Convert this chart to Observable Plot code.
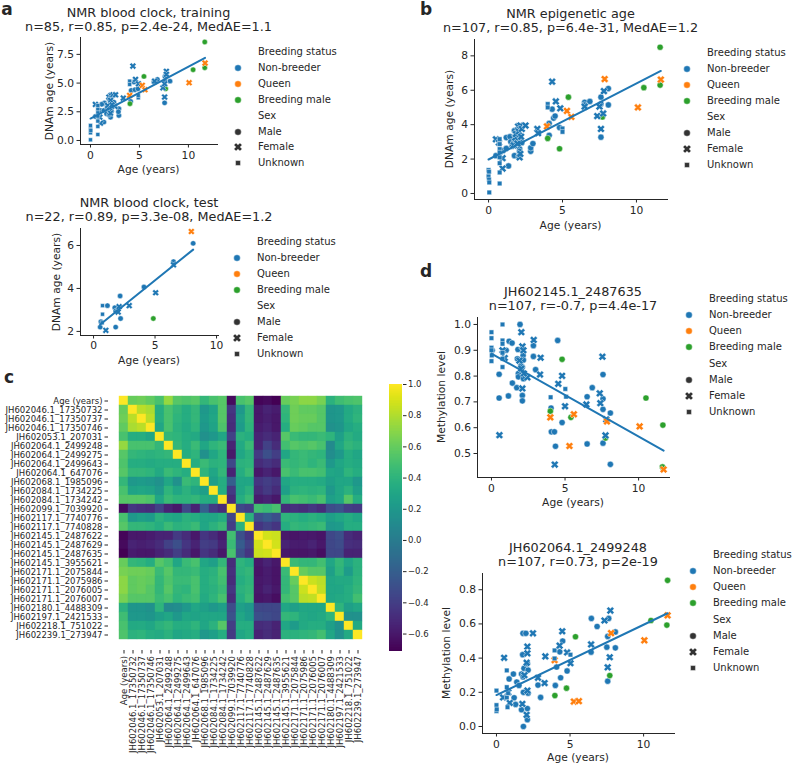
<!DOCTYPE html>
<html><head><meta charset="utf-8">
<script src="https://cdn.jsdelivr.net/npm/d3@7"></script>
<script src="https://cdn.jsdelivr.net/npm/@observablehq/plot@0.6"></script>
<style>
body{margin:0;background:#fff;}
#fig{position:relative;width:798px;height:766px;overflow:hidden;font-family:"DejaVu Sans",sans-serif;color:#262626;background:#fff;}
.t{position:absolute;white-space:nowrap;line-height:1;}
</style></head><body><div id="fig"></div>
<script>
// ---------------- DATA ----------------
// codes: first letter status (N non-breeder, Q queen, B breeding male), second letter sex (M, F, U)
const statusColors = {N:"#1f77b4", Q:"#ff7f0e", B:"#2ca02c"};
const statusLabels = ["Non-breeder","Queen","Breeding male"];
const sexLabels = ["Male","Female","Unknown"];

const trainPts = [
 [0,0.06,"NU"],[0,0.67,"NU"],[0,1.02,"NU"],[0,1.31,"NU"],[0.03,0.87,"NU"],[0.75,0.52,"NU"],[0.75,1.22,"NU"],[0.75,1.69,"NU"],[0.75,2.12,"NU"],[0.75,2.47,"NU"],[0.75,2.76,"NU"],[0.75,3.05,"NU"],[4.0,5.17,"NU"],[4.0,4.88,"NU"],[4.88,3.72,"NU"],[4.88,3.92,"NU"],
 [0.5,3.14,"NF"],[1.02,1.51,"NF"],[0.95,2.03,"NF"],[1.88,3.78,"NF"],[2.1,3.92,"NF"],[2.3,3.98,"NF"],[2.56,3.98,"NF"],[2.05,3.49,"NF"],[2.05,2.38,"NF"],[3.35,3.69,"NF"],[4.33,6.48,"NF"],[4.6,5.32,"NF"],[4.9,4.94,"NF"],[7.4,4.59,"NF"],[7.57,3.78,"NF"],[7.75,6.02,"NF"],[7.75,5.76,"NF"],[7.57,4.94,"NF"],[6.55,5.17,"NF"],[2.5,2.97,"NF"],[1.75,3.05,"NF"],[2.2,3.1,"NF"],
 [0.5,2.09,"NM"],[1.43,3.26,"NM"],[1.02,2.62,"NM"],[1.37,2.62,"NM"],[1.37,1.6,"NM"],[1.88,3.63,"NM"],[1.88,2.97,"NM"],[2.05,2.03,"NM"],[2.05,2.62,"NM"],[2.12,3.05,"NM"],[2.9,2.76,"NM"],[2.9,2.18,"NM"],[2.39,3.34,"NM"],[4.1,3.4,"NM"],[4.16,4.36,"NM"],[4.54,4.42,"NM"],[4.44,5.09,"NM"],[4.85,4.5,"NM"],[6.48,5.09,"NM"],[6.83,5.32,"NM"],[7.61,5.17,"NM"],[7.61,5.58,"NM"],[7.57,3.28,"NM"],[8.12,5.17,"NM"],[1.64,2.33,"NM"],[1.7,2.85,"NM"],[1.15,3.15,"NM"],[2.15,2.55,"NM"],[2.85,2.5,"NM"],[1.9,2.25,"NM"],
 [4.03,3.2,"BM"],[5.46,5.58,"BM"],[7.68,4.5,"BM"],[10.48,6.16,"BM"],[11.67,8.58,"BM"],[11.67,6.34,"BM"],
 [4.0,3.92,"QF"],[5.29,4.8,"QF"],[5.56,4.42,"QF"],[10.07,5.03,"QF"],[11.7,6.74,"QF"]
];

const testPts = [
 [0.54,2.2,"NM"],[0.6,2.45,"NM"],[0.73,3.2,"NU"],[0.73,2.8,"NU"],[0.7,2.4,"NU"],[1.0,2.05,"NF"],[1.13,3.2,"NM"],[1.73,3.1,"NM"],[1.8,2.95,"NM"],[1.8,2.2,"NM"],[2.0,2.9,"NF"],[2.08,3.15,"NF"],[2.16,3.65,"NM"],[2.2,2.6,"NM"],[2.9,3.2,"NF"],[4.1,4.07,"NM"],[5.05,3.8,"NF"],[4.86,2.6,"BM"],[6.5,5.25,"NM"],[6.5,5.1,"NF"],[8.1,6.1,"NM"],[7.95,6.65,"QF"]
];

const epiPts = [
 [0,1.36,"NU"],[0.03,1.26,"NU"],[0,0.99,"NU"],[0.03,0.81,"NU"],[0.05,0.64,"NU"],[0.05,0.06,"NU"],
 [0.75,3.16,"NU"],[0.75,2.87,"NU"],[0.75,2.58,"NU"],[0.75,2.38,"NU"],[0.75,2.1,"NU"],[0.75,1.76,"NU"],[0.75,1.22,"NU"],[0.75,0.58,"NU"],
 [4.0,5.2,"NU"],[4.0,5.0,"NU"],[5.0,3.78,"NU"],[5.0,3.58,"NU"],
 [0.5,3.15,"NF"],[0.95,2.05,"NF"],[0.95,1.45,"NF"],[0.7,2.95,"NF"],[1.7,2.8,"NF"],[1.8,3.25,"NF"],[1.85,3.45,"NF"],[1.95,2.9,"NF"],[2.0,3.9,"NF"],[2.05,3.6,"NF"],[2.15,3.95,"NF"],[2.2,3.3,"NF"],[2.25,3.75,"NF"],[2.5,3.95,"NF"],[2.1,2.1,"NF"],[2.15,2.3,"NF"],[3.3,3.75,"NF"],[3.35,3.5,"NF"],[4.3,6.5,"NF"],[4.55,5.35,"NF"],[4.85,4.95,"NF"],[6.5,5.05,"NF"],[7.35,4.5,"NF"],[7.5,5.05,"NF"],[7.6,3.75,"NF"],[7.75,4.65,"NF"],[7.8,5.95,"NF"],
 [0.5,2.2,"NM"],[0.8,2.4,"NM"],[1.0,2.5,"NM"],[1.2,3.25,"NM"],[1.2,2.62,"NM"],[1.35,1.6,"NM"],[1.45,3.3,"NM"],[1.5,3.0,"NM"],[1.6,2.75,"NM"],[1.7,2.95,"NM"],[1.75,3.65,"NM"],[1.75,2.2,"NM"],[1.85,3.05,"NM"],[1.9,3.5,"NM"],[2.0,3.2,"NM"],[2.05,2.15,"NM"],[2.1,2.6,"NM"],[2.1,2.45,"NM"],[2.15,3.1,"NM"],[2.25,2.95,"NM"],[2.85,2.45,"NM"],[2.85,2.65,"NM"],[3.0,2.9,"NM"],[4.1,4.07,"NM"],[4.1,3.38,"NM"],[4.3,4.9,"NM"],[4.4,4.38,"NM"],[4.5,4.5,"NM"],[4.8,3.83,"NM"],[6.5,5.3,"NM"],[6.5,5.15,"NM"],[6.85,5.35,"NM"],[7.6,5.6,"NM"],[7.6,5.2,"NM"],[7.6,3.27,"NM"],[8.1,6.1,"NM"],[8.1,5.15,"NM"],
 [4.0,3.2,"BM"],[5.4,5.6,"BM"],[4.8,2.6,"BM"],[7.7,4.45,"BM"],[10.5,6.15,"BM"],[11.6,8.5,"BM"],[11.6,6.3,"BM"],
 [3.95,3.9,"QF"],[5.3,4.8,"QF"],[5.6,4.45,"QF"],[7.85,6.65,"QF"],[10.1,5.0,"QF"],[11.65,6.62,"QF"]
];

const cpgAPts = [ // JH602145.1_2487635
 [0,0.97,"NU"],[0,0.947,"NU"],[0,0.91,"NU"],[0,0.9,"NU"],[0.02,0.88,"NU"],[0,0.858,"NU"],[0.75,1.0,"NU"],[0.75,0.938,"NU"],[0.75,0.925,"NU"],[0.75,0.89,"NU"],[0.75,0.867,"NU"],[0.75,0.835,"NU"],[4.02,0.718,"NU"],[5.02,0.75,"NU"],[5.07,0.72,"NU"],
 [0.05,0.9,"NM"],[0.52,0.807,"NM"],[0.52,0.715,"NM"],[1.15,0.723,"NM"],[1.2,0.935,"NM"],[1.4,0.928,"NM"],[1.42,0.773,"NM"],[1.72,0.755,"NM"],[1.76,0.867,"NM"],[1.8,0.903,"NM"],[1.94,1.0,"NM"],[1.83,0.81,"NM"],[1.83,0.797,"NM"],[2.1,0.835,"NM"],[2.15,0.88,"NM"],[2.17,0.862,"NM"],[2.1,0.725,"NM"],[2.1,0.704,"NM"],[2.17,0.79,"NM"],[2.85,0.918,"NM"],[2.85,0.876,"NM"],[3.0,0.825,"NM"],[4.5,0.938,"NM"],[4.05,0.676,"NM"],[4.07,0.584,"NM"],[4.28,0.584,"NM"],[4.35,0.528,"NM"],[4.8,0.62,"NM"],[6.5,0.72,"NM"],[6.5,0.537,"NM"],[6.85,0.755,"NM"],[7.58,0.806,"NM"],[7.58,0.712,"NM"],[7.58,0.671,"NM"],[7.58,0.54,"NM"],[8.08,0.657,"NM"],[8.08,0.458,"NM"],[1.0,0.9,"NM"],[2.0,0.84,"NM"],
 [0.54,0.571,"NF"],[0.75,0.9,"NF"],[0.9,0.87,"NF"],[2.03,0.97,"NF"],[2.1,0.915,"NF"],[2.17,0.9,"NF"],[2.44,0.795,"NF"],[2.87,0.94,"NF"],[3.34,0.871,"NF"],[3.3,0.806,"NF"],[2.1,0.752,"NF"],[2.03,0.829,"NF"],[4.8,0.801,"NF"],[4.54,0.77,"NF"],[5.0,0.683,"NF"],[4.3,0.457,"NF"],[6.45,0.69,"NF"],[7.36,0.733,"NF"],[7.4,0.695,"NF"],[7.54,0.875,"NF"],[7.8,0.632,"NF"],[7.75,0.57,"NF"],[1.9,0.86,"NF"],[2.2,0.81,"NF"],
 [4.0,0.664,"BM"],[4.8,0.865,"BM"],[5.4,0.64,"BM"],[7.75,0.56,"BM"],[10.5,0.715,"BM"],[11.65,0.61,"BM"],[11.62,0.448,"BM"],
 [4.0,0.64,"QF"],[5.3,0.529,"QF"],[5.6,0.652,"QF"],[7.85,0.624,"QF"],[10.07,0.605,"QF"],[11.7,0.438,"QF"]
];

const cpgBPts = [ // JH602064.1_2499248
 [0,0.21,"NU"],[0,0.125,"NU"],[0,0.09,"NU"],[0.02,0.1,"NU"],[0.7,0.328,"NU"],[0.7,0.23,"NU"],[0.7,0.17,"NU"],[0.79,0.195,"NU"],[0.75,0.113,"NU"],[3.95,0.398,"NU"],[3.95,0.445,"NU"],[5.03,0.42,"NU"],
 [0.52,0.402,"NF"],[0.45,0.17,"NF"],[0.9,0.138,"NF"],[2.1,0.467,"NF"],[2.1,0.428,"NF"],[2.05,0.373,"NF"],[2.05,0.068,"NF"],[1.76,0.132,"NF"],[2.48,0.545,"NF"],[2.82,0.285,"NF"],[3.32,0.41,"NF"],[3.27,0.254,"NF"],[4.47,0.557,"NF"],[4.29,0.473,"NF"],[4.8,0.433,"NF"],[5.03,0.37,"NF"],[6.43,0.48,"NF"],[7.34,0.62,"NF"],[7.74,0.678,"NF"],[7.56,0.346,"NF"],[7.7,0.405,"NF"],[1.9,0.3,"NF"],[2.1,0.21,"NF"],[0.8,0.2,"NF"],
 [0.86,0.278,"NM"],[1.15,0.307,"NM"],[1.2,0.168,"NM"],[1.3,0.129,"NM"],[1.38,0.26,"NM"],[1.53,0.24,"NM"],[1.7,0.307,"NM"],[1.7,0.098,"NM"],[1.8,0.545,"NM"],[1.83,0.0,"NM"],[1.78,0.42,"NM"],[1.83,0.2,"NM"],[1.87,0.34,"NM"],[2.0,0.545,"NM"],[2.1,0.04,"NM"],[2.1,0.105,"NM"],[2.15,0.33,"NM"],[2.15,0.195,"NM"],[2.1,0.367,"NM"],[3.0,0.17,"NM"],[2.82,0.242,"NM"],[4.0,0.24,"NM"],[4.09,0.348,"NM"],[4.3,0.437,"NM"],[4.36,0.285,"NM"],[4.5,0.5,"NM"],[4.8,0.325,"NM"],[6.43,0.435,"NM"],[6.45,0.632,"NM"],[6.84,0.585,"NM"],[7.56,0.527,"NM"],[7.56,0.265,"NM"],[7.63,0.632,"NM"],[7.5,0.464,"NM"],[8.08,0.553,"NM"],[8.08,0.46,"NM"],[1.8,0.29,"NM"],
 [3.97,0.181,"BM"],[4.76,0.224,"BM"],[5.37,0.525,"BM"],[7.7,0.298,"BM"],[10.5,0.62,"BM"],[11.63,0.855,"BM"],[11.58,0.593,"BM"],
 [3.95,0.388,"QF"],[5.26,0.146,"QF"],[5.6,0.148,"QF"],[7.79,0.546,"QF"],[10.05,0.504,"QF"],[11.63,0.65,"QF"]
];

const heatNames = ["Age (years)","JH602046.1_17350732","JH602046.1_17350737","JH602046.1_17350746","JH602053.1_207031","JH602064.1_2499248","JH602064.1_2499275","JH602064.1_2499643","JH602064.1_647076","JH602068.1_1985096","JH602084.1_1734225","JH602084.1_1734242","JH602099.1_7039920","JH602117.1_7740776","JH602117.1_7740828","JH602145.1_2487622","JH602145.1_2487629","JH602145.1_2487635","JH602145.1_3955621","JH602171.1_2075844","JH602171.1_2075986","JH602171.1_2076005","JH602171.1_2076007","JH602180.1_4488309","JH602197.1_2421533","JH602218.1_751022","JH602239.1_273947"];

// upper triangle of the correlation matrix: row i holds columns i+1 .. 26
const corrUpper = [
 [.6,.62,.58,.5,.73,.55,.52,.55,.42,.5,.55,-.66,.5,.55,-.69,-.67,-.71,.6,.65,.7,.7,.65,.38,.47,.5,.52],
 [.82,.78,.35,.5,.42,.35,.42,.2,.28,.55,-.45,.2,.42,-.6,-.55,-.58,.42,.62,.58,.58,.55,.18,.2,.32,.38],
 [.82,.35,.5,.4,.35,.42,.22,.3,.55,-.48,.25,.42,-.6,-.57,-.6,.4,.62,.6,.6,.55,.18,.2,.33,.4],
 [.3,.5,.38,.33,.4,.2,.28,.52,-.5,.22,.4,-.58,-.55,-.6,.35,.6,.58,.55,.55,.15,.18,.3,.35],
 [.42,.4,.35,.32,.15,.2,.3,-.38,.38,.35,-.55,-.5,-.55,.55,.45,.42,.42,.45,.4,.25,.38,.33],
 [.42,.35,.45,.3,.4,.45,-.55,.32,.45,-.55,-.38,-.5,.48,.55,.52,.55,.5,.1,.3,.42,.38],
 [.35,.4,.15,.3,.4,-.6,.3,.38,-.42,-.3,-.4,.3,.42,.45,.42,.4,.12,.2,.35,.3],
 [.35,.45,.38,.4,-.35,.38,.4,-.5,-.45,-.5,.45,.42,.45,.4,.45,.2,.3,.35,.32],
 [.4,.3,.42,-.55,.35,.45,-.6,-.55,-.6,.5,.45,.5,.5,.48,.3,.28,.4,.35],
 [.25,.35,-.2,.3,.3,-.45,-.4,-.45,.3,.35,.35,.35,.33,.25,.3,.3,.2],
 [.35,-.42,.3,.38,-.5,-.42,-.5,.25,.38,.4,.38,.4,.2,.3,.38,.25],
 [-.5,.35,.45,-.58,-.55,-.6,.42,.5,.48,.45,.5,.25,.3,.55,.35],
 [-.35,-.4,.48,.45,.5,-.5,-.48,-.5,-.45,-.5,-.32,-.28,-.4,-.42],
 [.38,-.3,-.22,-.3,.4,.38,.35,.38,.35,.25,.3,.35,.3],
 [-.45,-.38,-.45,.35,.42,.4,.42,.45,.2,.22,.35,.35],
 [.88,.86,-.6,-.62,-.6,-.6,-.62,-.35,-.3,-.5,-.55],
 [.88,-.55,-.58,-.58,-.55,-.6,-.35,-.32,-.48,-.5],
 [-.6,-.62,-.62,-.6,-.65,-.35,-.35,-.55,-.55],
 [.45,.42,.42,.48,.3,.42,.3,.38],
 [.6,.55,.55,.25,.4,.22,.38],
 [.86,.82,.3,.32,.32,.4],
 [.84,.3,.3,.35,.42],
 [.3,.32,.35,.48],
 [.4,.25,.3],
 [.15,.15],
 [.32]
];
const corrDomain = [-0.712, 1];
const corrTicks = [-0.6,-0.4,-0.2,0,0.2,0.4,0.6,0.8,1.0];

// ---------------- HELPERS ----------------
const fig = document.getElementById("fig");
const NS = "http://www.w3.org/2000/svg";
const FONT = '"DejaVu Sans", sans-serif';
function place(el, left, top){ el.style.position="absolute"; el.style.left=left+"px"; el.style.top=top+"px"; fig.appendChild(el); }
function text(s, x, y, o={}){
  const d=document.createElement("div"); d.className="t"; d.textContent=s;
  d.style.fontSize=(o.size||10.7)+"px"; if(o.weight) d.style.fontWeight=o.weight;
  d.style.left=x+"px"; d.style.top=y+"px";
  const tx = o.anchor==="start" ? "0" : "-50%";
  d.style.transform=`translate(${tx},-50%)`+(o.rotate?` rotate(${o.rotate}deg)`:"");
  fig.appendChild(d);
}
const SYM_X = {draw(ctx, size){ const R=Math.sqrt(size/Math.PI); const L=R*1.3, w=R*0.46, c=Math.SQRT1_2;
  const pts=[[-w,-L],[w,-L],[w,-w],[L,-w],[L,w],[w,w],[w,L],[-w,L],[-w,w],[-L,w],[-L,-w],[-w,-w]];
  pts.forEach(([x,y],i)=>{const X=(x-y)*c, Y=(x+y)*c; if(i) ctx.lineTo(X,Y); else ctx.moveTo(X,Y);}); ctx.closePath(); }};
const SYM_S = {draw(ctx, size){ const R=Math.sqrt(size/Math.PI); const s=R*0.74; ctx.moveTo(-s,-s); ctx.lineTo(s,-s); ctx.lineTo(s,s); ctx.lineTo(-s,s); ctx.closePath(); }};
const SYM_O = d3.symbolCircle;

function marker(sym, color, cx, cy, r){
  const svg=document.createElementNS(NS,"svg"); svg.setAttribute("width",16); svg.setAttribute("height",16);
  const p=d3.path(); sym.draw(p, Math.PI*r*r);
  const path=document.createElementNS(NS,"path"); path.setAttribute("d",p.toString()); path.setAttribute("fill",color);
  path.setAttribute("stroke","white"); path.setAttribute("stroke-width","0.4"); path.setAttribute("transform","translate(8,8)");
  svg.appendChild(path); place(svg, cx-8, cy-8);
}
function legend(tx, y0, dy){
  const rows=[["Breeding status"],[statusLabels[0],SYM_O,statusColors.N],[statusLabels[1],SYM_O,statusColors.Q],[statusLabels[2],SYM_O,statusColors.B],
    ["Sex"],[sexLabels[0],SYM_O,"#333333"],[sexLabels[1],SYM_X,"#333333"],[sexLabels[2],SYM_S,"#333333"]];
  rows.forEach(([label,sym,col],i)=>{ const y=y0+i*dy; text(label, tx, y, {anchor:"start", size:10}); if(sym) marker(sym,col,tx-20,y,3.3); });
}

function scatter(o){
  const ml=45, mr=6, mt=6, mb=30;
  const fw=o.x1-o.x0, fh=o.y1-o.y0;
  const base = {x:d=>d[0], y:d=>d[1], fill:d=>statusColors[d[2][0]], stroke:"white", strokeWidth:0.45, r:o.r};
  const sub = s => o.data.filter(d=>d[2][1]===s);
  const p = Plot.plot({
    width: fw+ml+mr, height: fh+mt+mb, marginLeft:ml, marginRight:mr, marginTop:mt, marginBottom:mb,
    style:{fontFamily:FONT, fontSize:"10.7px", color:"#262626", background:"transparent", overflow:"visible", maxWidth:"none"},
    x:{domain:o.xd, ticks:[0,5,10], tickSize:3.5, tickPadding:o.xpad ?? 3, line:true, label:null},
    y:{domain:o.yd, ticks:o.yt, tickFormat:o.yf, tickSize:3.5, tickPadding:3, line:true, label:null},
    marks:[
      Plot.dot(sub("M"), {...base, symbol:SYM_O}),
      Plot.dot(sub("F"), {...base, symbol:SYM_X}),
      Plot.dot(sub("U"), {...base, symbol:SYM_S}),
      Plot.linearRegressionY(o.data, {x:d=>d[0], y:d=>d[1], stroke:"#1f77b4", strokeWidth:2, ci:0})
    ]
  });
  place(p, o.x0-ml, o.y0-mt);
  const cx=(o.x0+o.x1)/2;
  text(o.title, cx, o.ty, {size:12.8});
  text(o.sub, cx, o.ty+14, {size:12.8});
  text("Age (years)", cx, o.xlY, {size:10.7});
  text(o.ylab, o.ylX, (o.y0+o.y1)/2, {size:10.7, rotate:-90});
  legend(o.lx, o.ly, o.ldy);
}

// ---------------- PANELS ----------------
const f1 = d3.format(".1f"), fd = d3.format("d");
scatter({data:trainPts, x0:80, x1:217, y0:37, y1:144, xd:[-1.02,12.97], yd:[-0.35,8.97], yt:[0,2.5,5,7.5], yf:f1, r:2.7,
  title:"NMR blood clock, training", sub:"n=85, r=0.85, p=2.4e-24, MedAE=1.1", ty:13, xlY:170, ylab:"DNAm age (years)", ylX:50, lx:258, ly:52, ldy:15.9});
scatter({data:testPts, x0:80, x1:218, y0:228, y1:335, xd:[-1.06,10.16], yd:[1.81,6.79], yt:[2,4,6], yf:fd, r:2.7, xpad:2.5,
  title:"NMR blood clock, test", sub:"n=22, r=0.89, p=3.3e-08, MedAE=1.2", ty:203, xlY:361, ylab:"DNAm age (years)", ylX:57, lx:257, ly:242, ldy:16});
scatter({data:epiPts, x0:474, x1:667, y0:39, y1:199, xd:[-0.95,12.1], yd:[-0.35,8.95], yt:[0,2,4,6,8], yf:fd, r:3.1,
  title:"NMR epigenetic age", sub:"n=107, r=0.85, p=6.4e-31, MedAE=1.2", ty:14, xlY:226, ylab:"DNAm age (years)", ylX:450, lx:707, ly:53, ldy:16});
scatter({data:cpgAPts, x0:477, x1:669, y0:317, y1:477, xd:[-0.95,12.1], yd:[0.407,1.027], yt:[0.5,0.6,0.7,0.8,0.9,1.0], yf:f1, r:3.1,
  title:"JH602145.1_2487635", sub:"n=107, r=-0.7, p=4.4e-17", ty:292, xlY:503, ylab:"Methylation level", ylX:442, lx:709, ly:299, ldy:16.15});
scatter({data:cpgBPts, x0:482, x1:674, y0:573, y1:733, xd:[-0.95,12.1], yd:[-0.041,0.895], yt:[0,0.2,0.4,0.6,0.8], yf:f1, r:3.1,
  title:"JH602064.1_2499248", sub:"n=107, r=0.73, p=2e-19", ty:548, xlY:758, ylab:"Methylation level", ylX:447, lx:713, ly:555, ldy:16.15});

// heatmap
const cells=[];
heatNames.forEach((a,i)=>heatNames.forEach((b,j)=>{
  const v = i===j ? 1 : (i<j ? corrUpper[i][j-i-1] : corrUpper[j][i-j-1]);
  cells.push({row:a, col:b, v});
}));
const hm = Plot.plot({
  width:374, height:2+266+118, marginLeft:108, marginRight:2, marginTop:2, marginBottom:118,
  style:{fontFamily:FONT, fontSize:"8.5px", color:"#262626", background:"transparent", overflow:"visible", maxWidth:"none"},
  x:{domain:heatNames, padding:0, tickRotate:-90, tickSize:3.5, tickPadding:2, label:null},
  y:{domain:heatNames, padding:0, tickSize:3.5, tickPadding:2.5, label:null},
  color:{type:"linear", scheme:"viridis", domain:corrDomain},
  marks:[Plot.cell(cells, {x:"col", y:"row", fill:"v", stroke:"v", strokeWidth:0.4, inset:0})]
});
place(hm, 0, 382);

// colorbar
const cb = Plot.plot({
  width:13+36, height:267+12, marginLeft:0, marginRight:36, marginTop:6, marginBottom:6,
  style:{fontFamily:FONT, fontSize:"8.5px", color:"#262626", background:"transparent", overflow:"visible", maxWidth:"none"},
  x:{axis:null, domain:[0,1]},
  y:{domain:corrDomain, ticks:corrTicks, tickFormat:d3.format(".1f"), tickSize:3.5, tickPadding:2, axis:"right", label:null},
  color:{type:"linear", scheme:"viridis", domain:corrDomain},
  marks:[Plot.rect(d3.range(corrDomain[0], corrDomain[1], 0.004), {x1:0, x2:1, y1:d=>d, y2:d=>Math.min(corrDomain[1], d+0.0045), fill:d=>d, shapeRendering:"crispEdges"})]
});
place(cb, 389, 378);

// panel letters
text("a", 7, 9, {size:17, weight:"bold"});
text("b", 426, 9, {size:17, weight:"bold"});
text("c", 9, 377, {size:17, weight:"bold"});
text("d", 426, 271, {size:17, weight:"bold"});
</script></body></html>
